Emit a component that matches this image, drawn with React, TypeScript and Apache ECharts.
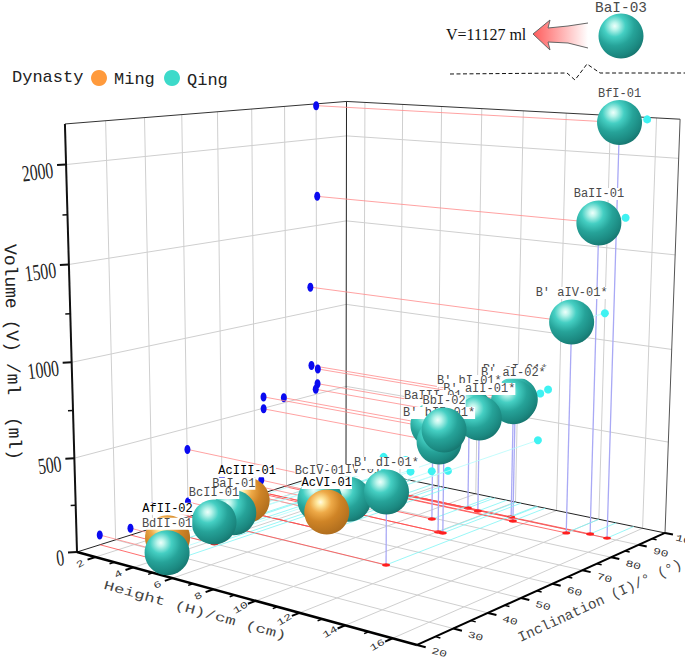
import React, { useEffect, useRef } from "react";
import * as echarts from "echarts";

// ---------- data ----------
const vesselNames = ["BfI-01", "BaII-01", "B' aIV-01*", "B' aI-01*", "B' aI-02*", "B' bI-01*", "B' aII-01*", "BaIII-01", "B' bII-01*", "BbI-02", "AcIII-01", "BaI-01", "BcII-01", "B' cIV-01", "BcIV-01", "AcVI-01", "B' dI-01*", "AfII-02", "BdII-01"];
const heightCm = [15.6, 14.8, 14.0, 11.46, 11.09, 8.98, 9.56, 8.79, 10.04, 10.27, 3.1, 3.48, 4.3, 5.7, 6.2, 6.55, 11.03, 3.0, 4.57];
const inclinationDeg = [90, 90.3, 88, 88.3, 90.4, 90.3, 89.7, 79.3, 72.9, 72.9, 56, 50, 40, 72, 60, 60, 50.1, 34, 25.9];
const volumeMl = [2190, 1669, 1146, 680, 650, 562, 531, 530, 496, 566, 110, 85, 118, 81, 162, 104, 382, 38, 53];
const dynasty = ["Qing", "Qing", "Qing", "Qing", "Qing", "Qing", "Qing", "Qing", "Qing", "Qing", "Ming", "Qing", "Qing", "Qing", "Qing", "Ming", "Qing", "Ming", "Qing"];

const heightTicks = [2, 4, 6, 8, 10, 12, 14, 16];
const heightMinorTicks = [3, 5, 7, 9, 11, 13, 15];
const inclinationTicks = [20, 30, 40, 50, 60, 70, 80, 90, 100];
const inclinationMinorTicks = [25, 35, 45, 55, 65, 75, 85, 95];
const volumeTicks = [0, 500, 1000, 1500, 2000];
const volumeMinorTicks = [250, 750, 1250, 1750];

const H_RANGE = [1, 17];
const I_RANGE = [20, 100];
const V_MAX = 2200;

// ---------- the 3D scale: projective camera fitted to the box ----------
function project(h: number, i: number, v: number): [number, number] {
  const u = (h - H_RANGE[0]) / (H_RANGE[1] - H_RANGE[0]);
  const w = (i - I_RANGE[0]) / (I_RANGE[1] - I_RANGE[0]);
  const z = v / V_MAX;
  const d = 1 - 0.1387 * u + 0.1737 * w - 0.045 * z;
  return [
    (282.2 * u + 329.1 * w - 15 * z + 77) / d,
    (3.5 * u - 3.9 * w - 433.6 * z + 552) / d,
  ];
}

const MONO = "'Liberation Mono', monospace";
const SERIF = "'Liberation Serif', serif";
const GRID = "#cfcfcf";

const tealFill = () =>
  new echarts.graphic.RadialGradient(0.36, 0.28, 0.8, [
    { offset: 0, color: "#eefffb" },
    { offset: 0.1, color: "#bdf5ec" },
    { offset: 0.3, color: "#45cfc3" },
    { offset: 0.55, color: "#26a399" },
    { offset: 0.82, color: "#1b8880" },
    { offset: 1, color: "#156e68" },
  ]);
const orangeFill = () =>
  new echarts.graphic.RadialGradient(0.36, 0.28, 0.8, [
    { offset: 0, color: "#fffbe6" },
    { offset: 0.1, color: "#ffe9a0" },
    { offset: 0.3, color: "#eeaa48" },
    { offset: 0.55, color: "#cf8426" },
    { offset: 1, color: "#a9691c" },
  ]);

function seg(a: [number, number], b: [number, number], stroke: string, lineWidth = 1, extra: any = {}) {
  return {
    type: "line",
    silent: true,
    shape: { x1: a[0], y1: a[1], x2: b[0], y2: b[1] },
    style: { stroke, lineWidth, ...extra },
  };
}

function label(text: string, x: number, y: number, opts: any = {}) {
  const { rotation = 0, scaleX = 1, scaleY = 1, ...style } = opts;
  return {
    type: "text",
    silent: true,
    x,
    y,
    rotation: (rotation * Math.PI) / 180,
    scaleX,
    scaleY,
    style: {
      text,
      fontFamily: MONO,
      fontSize: 13,
      fill: "#222",
      align: "center",
      verticalAlign: "middle",
      ...style,
    },
  };
}

function renderFrame() {
  const [h0, h1] = H_RANGE;
  const [i0, i1] = I_RANGE;
  const kids: any[] = [];
  // grid on the floor and the two walls
  heightTicks.forEach((h) => {
    kids.push(seg(project(h, i0, 0), project(h, i1, 0), GRID));
    kids.push(seg(project(h, i1, 0), project(h, i1, V_MAX), GRID));
  });
  inclinationTicks.slice(1, -1).forEach((i) => {
    kids.push(seg(project(h0, i, 0), project(h1, i, 0), GRID));
    kids.push(seg(project(h0, i, 0), project(h0, i, V_MAX), GRID));
  });
  volumeTicks.slice(1).forEach((v) => {
    kids.push(seg(project(h0, i0, v), project(h0, i1, v), GRID));
    kids.push(seg(project(h0, i1, v), project(h1, i1, v), GRID));
  });
  // thin box edges
  kids.push(seg(project(h0, i0, V_MAX), project(h0, i1, V_MAX), "#333"));
  kids.push(seg(project(h0, i1, V_MAX), project(h1, i1, V_MAX), "#333"));
  kids.push(seg(project(h0, i1, 0), project(h0, i1, V_MAX), "#222"));
  kids.push(seg(project(h1, i1, 0), project(h1, i1, V_MAX), "#555"));
  kids.push(seg(project(h0, i0, 0), project(h0, i1, 0), "#222"));
  kids.push(seg(project(h0, i1, 0), project(h1, i1, 0), "#222"));
  return { type: "group", children: kids };
}

function renderAxes() {
  const [h0, h1] = H_RANGE;
  const [i0, i1] = I_RANGE;
  const kids: any[] = [];
  kids.push(seg(project(h0, i0, 0), project(h0, i0, V_MAX), "#111", 2));
  kids.push(seg(project(h0, i0, 0), project(h1, i0, 0), "#000", 2.5));
  kids.push(seg(project(h1, i0, 0), project(h1, i1, 0), "#000", 2));

  volumeTicks.forEach((v) => {
    const p = project(h0, i0, v);
    kids.push(seg(p, [p[0] - 9, p[1] + 0.5], "#111", 2));
    kids.push(
      label(String(v), p[0] - 13, p[1] + 5, {
        align: "right",
        fontFamily: SERIF,
        fontSize: 23,
        scaleX: 0.68,
        rotation: 7,
      })
    );
  });
  volumeMinorTicks.forEach((v) => {
    const p = project(h0, i0, v);
    kids.push(seg(p, [p[0] - 5, p[1] + 0.3], "#111", 1.5));
  });

  heightTicks.forEach((h) => {
    const p = project(h, i0, 0);
    kids.push(seg(p, project(h, i0 - 2, 0), "#000", 2));
    kids.push(label(String(h), p[0] - 15, p[1] + 7, { rotation: 30, scaleY: 0.72, fontSize: 13, fill: "#333" }));
  });
  heightMinorTicks.forEach((h) => {
    kids.push(seg(project(h, i0, 0), project(h, i0 - 1.2, 0), "#000", 1.5));
  });

  inclinationTicks.forEach((i) => {
    const p = project(h1, i, 0);
    kids.push(seg(p, project(h1 + 0.35, i, 0), "#000", 2));
    kids.push(label(String(i), p[0] + 22, p[1] + 8, { rotation: -15, scaleY: 0.72, fontSize: 13, fill: "#333" }));
  });
  inclinationMinorTicks.forEach((i) => {
    kids.push(seg(project(h1, i, 0), project(h1 + 0.2, i, 0), "#000", 1.5));
  });

  kids.push(label("Volume (V) /ml  (ml)", 12, 352, { rotation: -88.7, fontSize: 18 }));
  kids.push(label("Height (H)/cm (cm)", 195, 611, { rotation: -15.7, fontSize: 17.5, scaleY: 0.72, fill: "#444" }));
  kids.push(label("Inclination (I)/\u00b0 (\u00b0)", 600, 601, { rotation: 24.7, fontSize: 14.2, fill: "#444" }));
  return { type: "group", children: kids };
}

function renderDrops(_: any, api: any) {
  const h = api.value(0);
  const i = api.value(1);
  const v = api.value(2);
  const [h0] = H_RANGE;
  const i1 = I_RANGE[1];
  const ball = project(h, i, v);
  const foot = project(h, i, 0);
  const west = project(h0, i, v);
  const east = project(h, i1, v);
  return {
    type: "group",
    children: [
      seg(project(h0, i, 0), foot, "#ff4a4a", 0.8),
      seg(foot, project(h, i1, 0), "#7ff5f5", 0.8),
      seg(west, ball, "#ff8a8a", 0.8),
      seg(east, ball, "#b5fbfb", 0.8),
      seg(foot, ball, "#a9a9f5", 1.3),
      { type: "ellipse", silent: true, shape: { cx: foot[0], cy: foot[1], rx: 4, ry: 1.7 }, style: { fill: "#ff1f1f" } },
      { type: "ellipse", silent: true, shape: { cx: west[0], cy: west[1], rx: 3, ry: 4.5 }, style: { fill: "#0a0af0" } },
      { type: "circle", silent: true, shape: { cx: east[0], cy: east[1], r: 4 }, style: { fill: "#3ff2f2" } },
    ],
  };
}

function renderBall(params: any, api: any) {
  const p = project(api.value(0), api.value(1), api.value(2));
  const i = params.dataIndex;
  const ming = dynasty[i] === "Ming";
  return {
    type: "group",
    children: [
      { type: "circle", silent: true, shape: { cx: p[0], cy: p[1], r: 22.5 }, style: { fill: ming ? orangeFill() : tealFill() } },
      label(vesselNames[i], p[0], p[1] - 29, {
        fontSize: 12,
        fill: ming ? "#000" : "#4a4a4a",
        backgroundColor: "#ffffff",
      }),
    ],
  };
}

const rows = vesselNames.map((_, k) => [heightCm[k], inclinationDeg[k], volumeMl[k]]);

export default function App() {
  const ref = useRef<HTMLDivElement>(null);
  useEffect(() => {
    const chart = echarts.init(ref.current!, undefined, { renderer: "svg" });
    chart.setOption({
      animation: false,
      backgroundColor: "#ffffff",
      series: [
        { type: "custom", name: "frame", coordinateSystem: "none", z: 1, clip: false, silent: true, data: [[0]], renderItem: renderFrame },
        { type: "custom", name: "drops", coordinateSystem: "none", z: 2, clip: false, silent: true, data: rows, renderItem: renderDrops },
        { type: "custom", name: "axes", coordinateSystem: "none", z: 3, clip: false, silent: true, data: [[0]], renderItem: renderAxes },
        { type: "custom", name: "vessels", coordinateSystem: "none", z: 4, clip: false, silent: true, data: rows, renderItem: renderBall },
      ],
      graphic: [
        {
          type: "group",
          z: 10,
          silent: true,
          children: [
            { type: "text", x: 12, y: 77, style: { text: "Dynasty", fontFamily: MONO, fontSize: 17, fill: "#222", verticalAlign: "middle" } },
            { type: "circle", shape: { cx: 99, cy: 78, r: 8 }, style: { fill: "#ff9a3c" } },
            { type: "text", x: 114, y: 79, style: { text: "Ming", fontFamily: MONO, fontSize: 17, fill: "#222", verticalAlign: "middle" } },
            { type: "circle", shape: { cx: 172, cy: 78, r: 8 }, style: { fill: "#3ddaca" } },
            { type: "text", x: 187, y: 80, style: { text: "Qing", fontFamily: MONO, fontSize: 17, fill: "#222", verticalAlign: "middle" } },

            { type: "text", x: 446, y: 34, style: { text: "V=11127 ml", fontFamily: SERIF, fontSize: 16, fill: "#111", verticalAlign: "middle" } },
            {
              type: "polygon",
              shape: { points: [[588, 23], [568, 26], [548, 28], [550, 20], [533, 34], [550, 50], [548, 42], [568, 43], [588, 48]] },
              style: { fill: new echarts.graphic.LinearGradient(0, 0, 1, 0, [{ offset: 0, color: "#ff5c5c" }, { offset: 1, color: "#ffffff" }]) },
            },
            {
              type: "polyline",
              shape: { points: [[588, 23], [568, 26], [548, 28], [550, 20], [533, 34], [550, 50], [548, 42], [568, 43], [588, 48]] },
              style: { stroke: "#666", lineWidth: 1, fill: "none" },
            },
            { type: "circle", shape: { cx: 621, cy: 36, r: 22.5 }, style: { fill: tealFill() } },
            { type: "text", x: 621, y: 8, style: { text: "BaI-03", fontFamily: MONO, fontSize: 14.4, fill: "#4a4a4a", align: "center", verticalAlign: "middle" } },

            { type: "polyline", shape: { points: [[450, 74], [567, 73], [575, 80], [587, 64], [600, 73], [685, 73]] }, style: { stroke: "#111", lineWidth: 1, lineDash: [4, 2.5], fill: "none" } },
          ],
        },
      ],
    });
    return () => chart.dispose();
  }, []);
  return (
    <div style={{ position: "absolute", left: 0, top: 0, width: 685, height: 659, overflow: "hidden" }}>
      <div ref={ref} style={{ width: 685, height: 659 }} />
    </div>
  );
}
